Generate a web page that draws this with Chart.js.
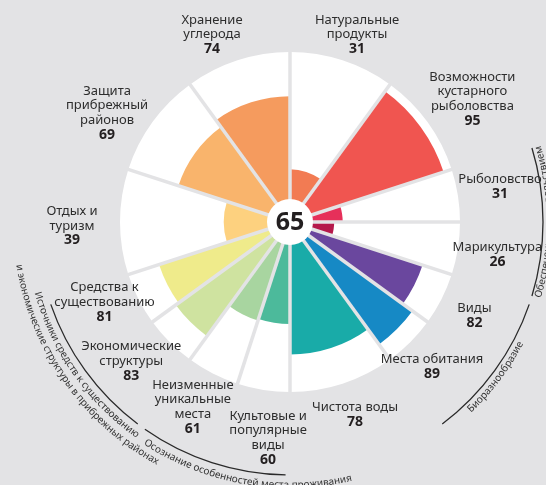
<!DOCTYPE html>
<html>
<head>
<meta charset="utf-8">
<script src="https://cdn.jsdelivr.net/npm/chart.js@4"></script>
<style>
    html, body { margin: 0; padding: 0; background: #e3e3e5; }
    canvas { display: block; }
</style>
</head>
<body>
<canvas id="myChart" width="546" height="485"></canvas>
<script>
// goals, clockwise from 12 o'clock
const goalNames = [
    ['Натуральные', 'продукты'],
    ['Возможности', 'кустарного', 'рыболовства'],
    ['Рыболовство'],
    ['Марикультура'],
    ['Виды'],
    ['Места обитания'],
    ['Чистота воды'],
    ['Культовые и', 'популярные', 'виды'],
    ['Неизменные', 'уникальные', 'места'],
    ['Экономические', 'структуры'],
    ['Средства к', 'существованию'],
    ['Отдых и', 'туризм'],
    ['Защита', 'прибрежный', 'районов'],
    ['Хранение', 'углерода']
];
const goalScores = [31, 95, 31, 26, 82, 89, 78, 60, 61, 83, 81, 39, 69, 74];
const goalAngles = [36, 36, 18, 18, 18, 18, 36, 18, 18, 18, 18, 36, 36, 36];
const goalColors = ['#f27b53', '#f05550', '#e6305a', '#b5194b', '#6a479e', '#1689c5', '#19aba8',
    '#4cba9b', '#a8d5a0', '#cfe3a0', '#efeb8b', '#fdd17f', '#f9b46c', '#f59b5e'];
const maxScore = 100;
const totalScore = 65;

// goals that share one outer arc
const groupNames = [
    ['Обеспечение продовольствием'],
    ['Биоразнообразие'],
    ['Осознание особенностей места проживания'],
    ['Источники средств к существованию', 'и экономические структуры в прибрежных районах']
];
const groupMembers = [[2, 3], [4, 5], [7, 8], [9, 10]];

// label placement: distance from centre, angle nudge in degrees
const labelPos = [[199, 1.7], [220, 2], [213, -0.5], [210, 0], [207, 0], [203, 0.6], [203, -0.7],
    [217, -3.2], [209, 0.7], [211, 3.8], [202, 3.7], [218, -1], [213, -5.2], [203, -4.6]];
// group text: baseline radius of each line, angle nudge in degrees
const groupTextPos = [[[262], 0], [[263], 1], [[266], -8], [[265, 277], 1]];

const BG = '#e3e3e5';
const FONT = '"Noto Sans", sans-serif';


function rad(deg) {
    return deg * Math.PI / 180;
}


function drawArcText(ctx, text, xc, yc, radius, centerAngle) {
    // reads counter-clockwise, letter tops towards the centre
    const total = ctx.measureText(text).width;
    let a = centerAngle + total / (2 * radius);
    for (const ch of text) {
        const w = ctx.measureText(ch).width;
        const am = a - w / (2 * radius);
        ctx.save();
        ctx.translate(xc + Math.cos(am) * radius, yc + Math.sin(am) * radius);
        ctx.rotate(am - Math.PI / 2);
        ctx.fillText(ch, 0, 0);
        ctx.restore();
        a -= w / radius;
    }
}


const wheelPlugin = {
    id: 'wheel',
    afterDatasetsDraw(chart) {
        const ctx = chart.ctx;
        const scale = chart.scales.r;
        const xc = scale.xCenter;
        const yc = scale.yCenter;
        const R = scale.drawingArea;
        const arcs = chart.getDatasetMeta(1).data.map(a => a.getProps(['startAngle', 'endAngle'], true));

        ctx.save();
        // separators between the goals
        ctx.strokeStyle = BG;
        ctx.lineWidth = 3.5;
        arcs.forEach(a => {
            ctx.beginPath();
            ctx.moveTo(xc, yc);
            ctx.lineTo(xc + Math.cos(a.startAngle) * (R + 1), yc + Math.sin(a.startAngle) * (R + 1));
            ctx.stroke();
        });

        // centre disc with the overall score
        ctx.fillStyle = '#fff';
        ctx.beginPath();
        ctx.arc(xc, yc, 23, 0, Math.PI * 2);
        ctx.fill();
        ctx.fillStyle = '#231f20';
        ctx.font = 'bold 25px ' + FONT;
        ctx.textAlign = 'center';
        ctx.textBaseline = 'middle';
        ctx.fillText(String(totalScore), xc, yc + 1);

        // goal labels
        const lineH = 14.7;
        arcs.forEach((a, i) => {
            const mid = (a.startAngle + a.endAngle) / 2 + rad(labelPos[i][1]);
            const x = xc + Math.cos(mid) * labelPos[i][0];
            const y = yc + Math.sin(mid) * labelPos[i][0];
            const lines = goalNames[i].concat([String(goalScores[i])]);
            let ly = y - (lines.length - 1) * lineH / 2;
            lines.forEach((t, k) => {
                const isNum = k === lines.length - 1;
                ctx.font = (isNum ? 'bold 14px ' : '13px ') + FONT;
                ctx.fillStyle = isNum ? '#231f20' : '#2d2d2d';
                ctx.fillText(t, x, ly);
                ly += lineH;
            });
        });

        // outer group arcs and their captions
        ctx.strokeStyle = '#2a2a2a';
        ctx.lineWidth = 1.3;
        ctx.fillStyle = '#333';
        ctx.font = '10px ' + FONT;
        ctx.textAlign = 'center';
        ctx.textBaseline = 'alphabetic';
        groupMembers.forEach((m, g) => {
            const a0 = arcs[m[0]].startAngle + rad(1);
            const a1 = arcs[m[m.length - 1]].endAngle - rad(1);
            ctx.beginPath();
            ctx.arc(xc, yc, R + 83, a0, a1);
            ctx.stroke();
            const mid = (a0 + a1) / 2 + rad(groupTextPos[g][1]);
            groupNames[g].forEach((t, k) => {
                drawArcText(ctx, t, xc, yc, groupTextPos[g][0][k], mid);
            });
        });
        ctx.restore();
    }
};


function createChart() {
    const ctx = document.getElementById('myChart').getContext('2d');
    new Chart(ctx, {
        type: 'polarArea',
        data: {
            labels: goalNames.map(n => n.join(' ')),
            datasets: [{
                data: goalScores,
                angle: goalAngles,
                backgroundColor: goalColors,
                borderWidth: 0
            }, {
                data: goalScores.map(() => maxScore),
                angle: goalAngles,
                backgroundColor: '#ffffff',
                borderWidth: 0
            }]
        },
        options: {
            responsive: false,
            animation: false,
            events: [],
            layout: {
                padding: { left: 120, right: 86, top: 52, bottom: 93 }
            },
            plugins: {
                legend: { display: false },
                tooltip: { enabled: false }
            },
            scales: {
                r: {
                    min: 0,
                    max: maxScore,
                    startAngle: 0,
                    ticks: { display: false },
                    grid: { display: false },
                    angleLines: { display: false },
                    pointLabels: { display: false }
                }
            }
        },
        plugins: [wheelPlugin]
    });
}

createChart();
</script>
</body>
</html>
